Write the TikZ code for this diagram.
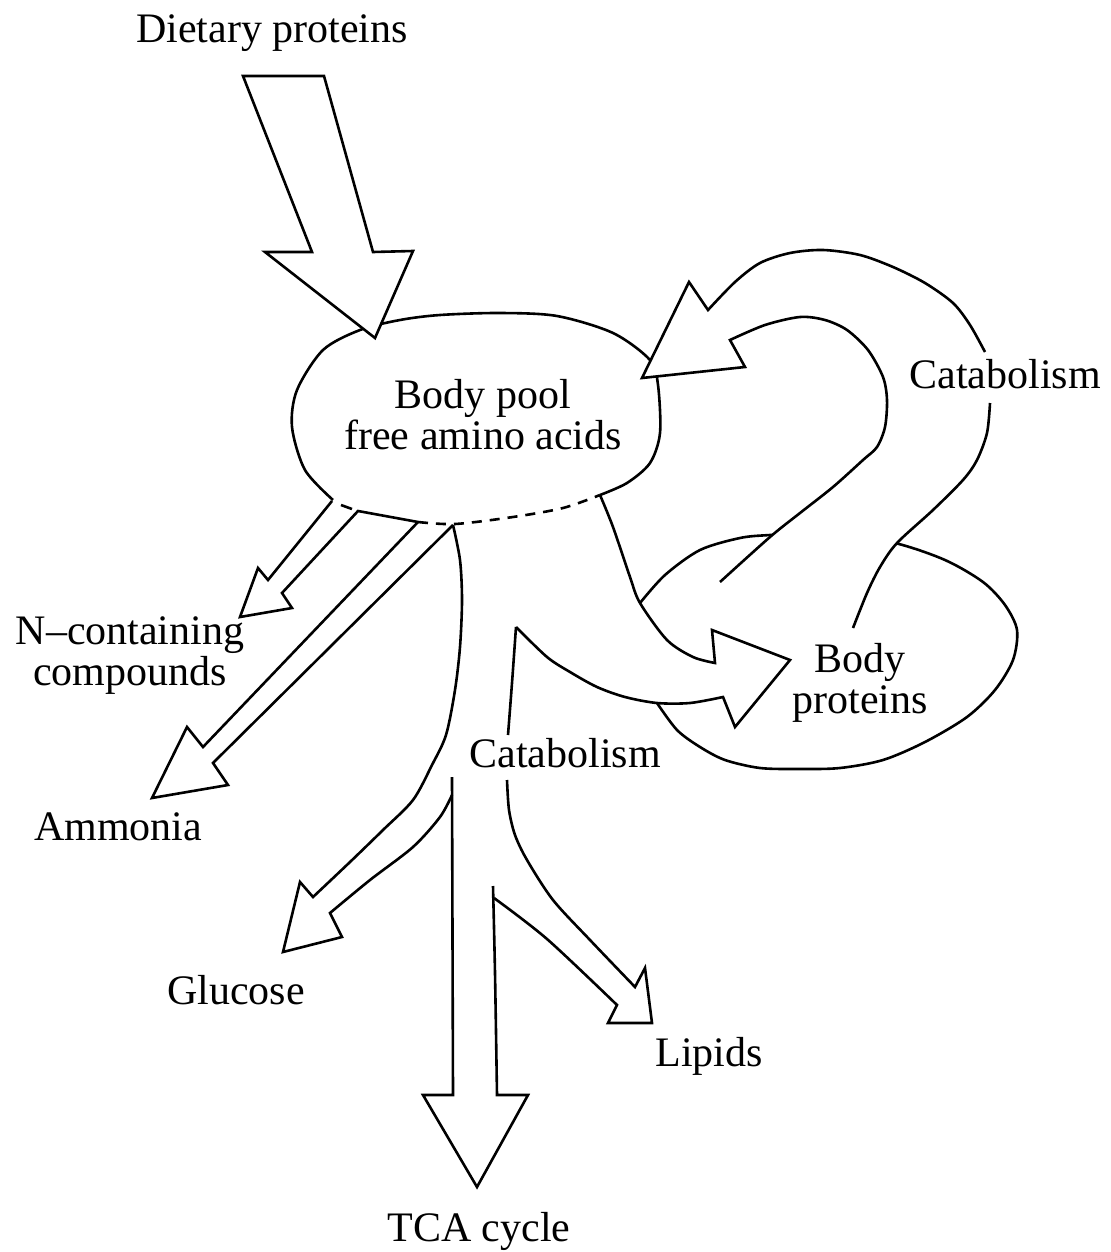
\documentclass[tikz,border=0pt]{standalone}
\usepackage{fontspec}
\setmainfont{Liberation Serif}
\begin{document}
\begin{tikzpicture}[x=0.5pt,y=-0.5pt,
  outline/.style={draw=black, line width=1.3pt, line join=miter},
  dashline/.style={draw=black, line width=1.3pt, dash pattern=on 5pt off 4pt},
  lbl/.style={font=\fontsize{21}{21}\selectfont, inner sep=0pt, anchor=base},
  lbl2/.style={font=\fontsize{21}{20.5}\selectfont, inner sep=0pt, align=center, anchor=center}]
\useasboundingbox (0,0) rectangle (1111,1252);

% ---------- body pool blob ----------
\draw[outline] plot[smooth] coordinates {(333,500) (305,470) (292,427) (297,390) (323,350) (360,330) (400,320) (440,315) (500,313) (557,316) (613,333) (650,360) (658,385) (660,433) (650,463) (627,483) (600,495)};
\draw[outline] (341,505) -- (352,509);
\draw[dashline] plot[smooth] coordinates {(418,522) (455,524) (513,517) (563,508) (600,495)};

% ---------- body proteins blob ----------
\draw[outline] plot[smooth] coordinates {(640,603) (665,575) (700,550) (740,538) (770,535) (830,532) (895,543) (945,560) (983,582) (1005,605) (1017,630) (1013,660) (995,690) (967,717) (925,742) (883,760) (840,768) (800,769) (760,768) (725,760) (700,747) (677,730) (657,703)};

% ---------- N-containing arrow ----------
\draw[outline] (332,501) -- (268,580) -- (258,568) -- (240,617) -- (292,608) -- (282,593) -- (358,511) -- (418,522);

% ---------- Ammonia arrow ----------
\draw[outline] (418,522) -- (203,747) -- (187,727) -- (152,798) -- (228,785) -- (213,763) -- (453,525);

% ---------- Glucose arrow (outer left edge of stem) ----------
\draw[outline] plot[smooth] coordinates {(453,525) (460,560) (462,600) (460,647) (455,690) (446,735) (432,765) (413,800) (383,830) (350,862) (313,897)} -- (300,882) -- (283,952) -- (342,937) -- (330,913) -- plot[smooth] coordinates {(330,913) (370,880) (413,847) (440,817) (452,795)};

% ---------- TCA arrow ----------
\draw[outline] (452,777) -- (453,1095) -- (423,1095) -- (477,1187) -- (528,1095) -- (497,1095) -- plot[smooth] coordinates {(497,1095) (495,973) (493,886)};

% ---------- Lipids arrow ----------
\draw[outline] plot[smooth] coordinates {(516,627) (512,683) (508,735)};
\draw[outline] plot[smooth] coordinates {(507,780) (509,810) (515,835) (527,860) (553,900) (590,940) (635,987)} -- (645,968) -- (652,1023) -- (608,1023) -- (617,1005) -- plot[smooth] coordinates {(617,1005) (547,939) (494,898)};

% ---------- arrow to body proteins ----------
\draw[outline] plot[smooth] coordinates {(600,495) (613,527) (630,577) (640,603) (667,640) (693,657) (715,663)} -- (712,630) -- (790,660) -- (735,727) -- (723,697) -- plot[smooth] coordinates {(723,697) (690,703) (657,703) (625,697) (597,687) (570,672) (547,657) (516,627)};

% ---------- return (catabolism) arrow ----------
\fill[white] plot[smooth] coordinates {(853,628) (867,593) (880,567) (897,543) (933,510) (963,480) (977,460) (987,433) (990,403) (988,375) (985,352) (970,325) (953,303) (925,283) (893,267) (860,255) (823,250) (790,253) (760,263) (735,282) (708,310)} -- (689,282) -- (642,378) -- (745,367) -- (730,340) -- plot[smooth] coordinates {(730,340) (765,325) (800,317) (825,320) (847,330) (868,350) (883,377) (887,400) (885,427) (877,447) (863,460) (833,487) (800,513) (770,537) (720,582)} -- cycle;
\draw[outline] plot[smooth] coordinates {(853,628) (867,593) (880,567) (897,543) (933,510) (963,480) (977,460) (987,433) (990,403)};
\draw[outline] plot[smooth] coordinates {(985,352) (970,325) (953,303) (925,283) (893,267) (860,255) (823,250) (790,253) (760,263) (735,282) (708,310)} -- (689,282) -- (642,378) -- (745,367) -- (730,340) -- plot[smooth] coordinates {(730,340) (765,325) (800,317) (825,320) (847,330) (868,350) (883,377) (887,400) (885,427) (877,447) (863,460) (833,487) (800,513) (770,537) (720,582)};

% ---------- dietary proteins arrow ----------
\draw[outline, fill=white] (243,76) -- (324,76) -- (373,252) -- (413,251) -- (375,338) -- (265,252) -- (312,252) -- cycle;

% ---------- labels ----------
\node[lbl] (diet) at (272,43) {Dietary proteins};
\node[lbl2] (pool) at (483,415) {Body pool\\free amino acids};
\node[lbl] (catR) at (1005,388) {Catabolism};
\node[lbl2] (bprot) at (860,683) {Body\\proteins};
\node[lbl2] (ncomp) at (130,656) {N–containing\\compounds};
\node[lbl] (catM) at (565,767) {Catabolism};
\node[lbl] (amm) at (118,840) {Ammonia};
\node[lbl] (glu) at (236,1004) {Glucose};
\node[lbl] (lip) at (709,1066) {Lipids};
\node[lbl] (tca) at (479,1241) {TCA cycle};
\end{tikzpicture}
\end{document}
